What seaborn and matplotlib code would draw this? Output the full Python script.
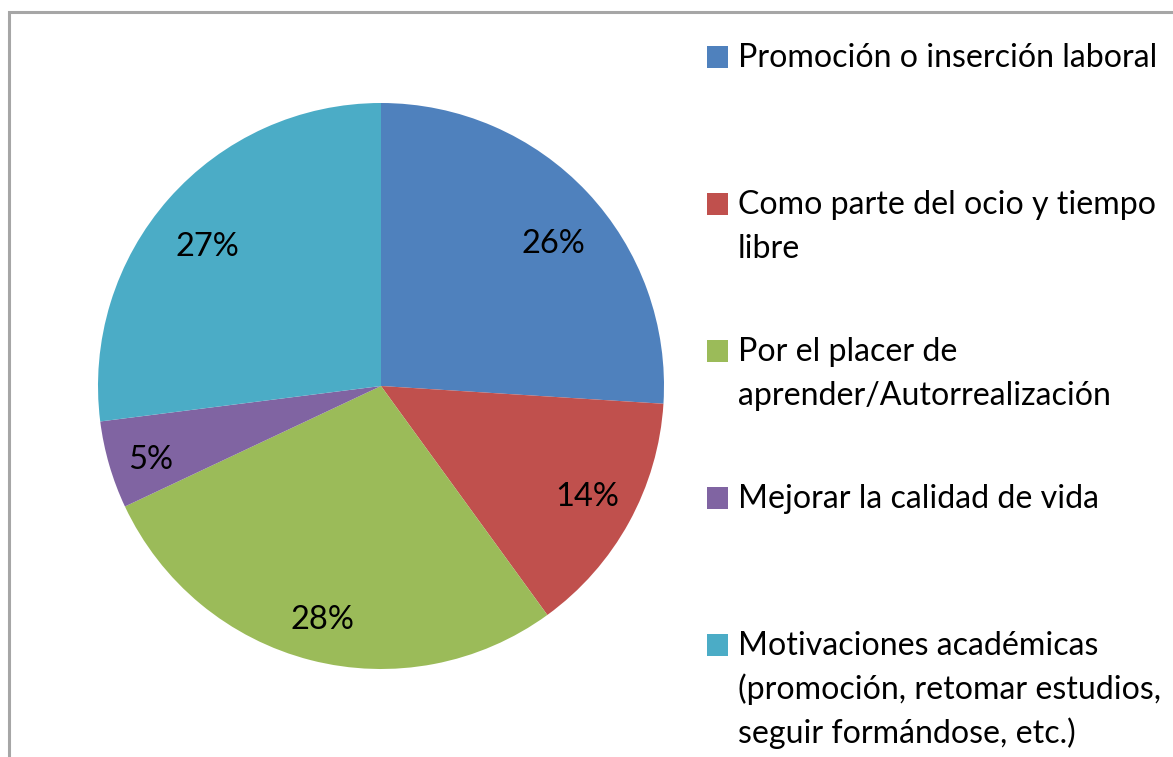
import matplotlib
matplotlib.use("Agg")
import matplotlib.pyplot as plt
import seaborn as sns
from matplotlib.patches import Rectangle

categories = [
    "Promoción o inserción laboral",
    "Como parte del ocio y tiempo\nlibre",
    "Por el placer de\naprender/Autorrealización",
    "Mejorar la calidad de vida",
    "Motivaciones académicas\n(promoción, retomar estudios,\nseguir formándose, etc.)",
]
values = [26, 14, 28, 5, 27]
colors_hex = ["#4F81BD", "#C0504D", "#9BBB59", "#8064A2", "#4BACC6"]

# label nudges in pixels (style only): (dx, dy-down)
label_nudges = [(3, 17), (3, -1), (-1, 9), (-8, 9), (0, 14)]

sns.set_theme(style="white")
plt.rcParams["font.family"] = ["Lato", "DejaVu Sans"]
palette = sns.color_palette(colors_hex)

W, H = 1173, 757
fig = plt.figure(figsize=(W / 100, H / 100), dpi=100)
fig.patch.set_facecolor("white")

FS = 23.5
cx, cy, R = 381, 386, 283
ax = fig.add_axes([(cx - R) / W, (H - cy - R) / H, 2 * R / W, 2 * R / H])
wedges, texts, autotexts = ax.pie(
    values, colors=palette, startangle=90, counterclock=False,
    autopct=lambda p: f"{p:.0f}%", pctdistance=0.82, radius=1,
    wedgeprops=dict(linewidth=0),
    textprops=dict(fontsize=FS, color="black"),
)
ax.set_xlim(-1, 1)
ax.set_ylim(-1, 1)
ax.set_axis_off()
for t, (dx, dy) in zip(autotexts, label_nudges):
    x, y = t.get_position()
    t.set_position((x + dx / R, y - dy / R))

# chart frame (left and top borders visible)
fig.add_artist(Rectangle((9 / W, -0.2), 1.5, (H - 12) / H + 0.2,
                         transform=fig.transFigure, fill=False,
                         edgecolor="#A6A6A6", linewidth=2.2))

# legend: items aligned to the first line, evenly spaced
b0, step, lgap = 67, 147, 44
for i, (lab, col) in enumerate(zip(categories, palette)):
    yb = b0 + i * step
    fig.add_artist(Rectangle((707 / W, (H - yb - 1) / H), 21 / W, 22 / H,
                             transform=fig.transFigure, facecolor=col,
                             edgecolor="none"))
    for k, line in enumerate(lab.split("\n")):
        fig.text(738 / W, (H - yb - k * lgap) / H, line, ha="left",
                 va="baseline", fontsize=23.1, color="black")

fig.savefig("out.png", dpi=100, facecolor="white")
